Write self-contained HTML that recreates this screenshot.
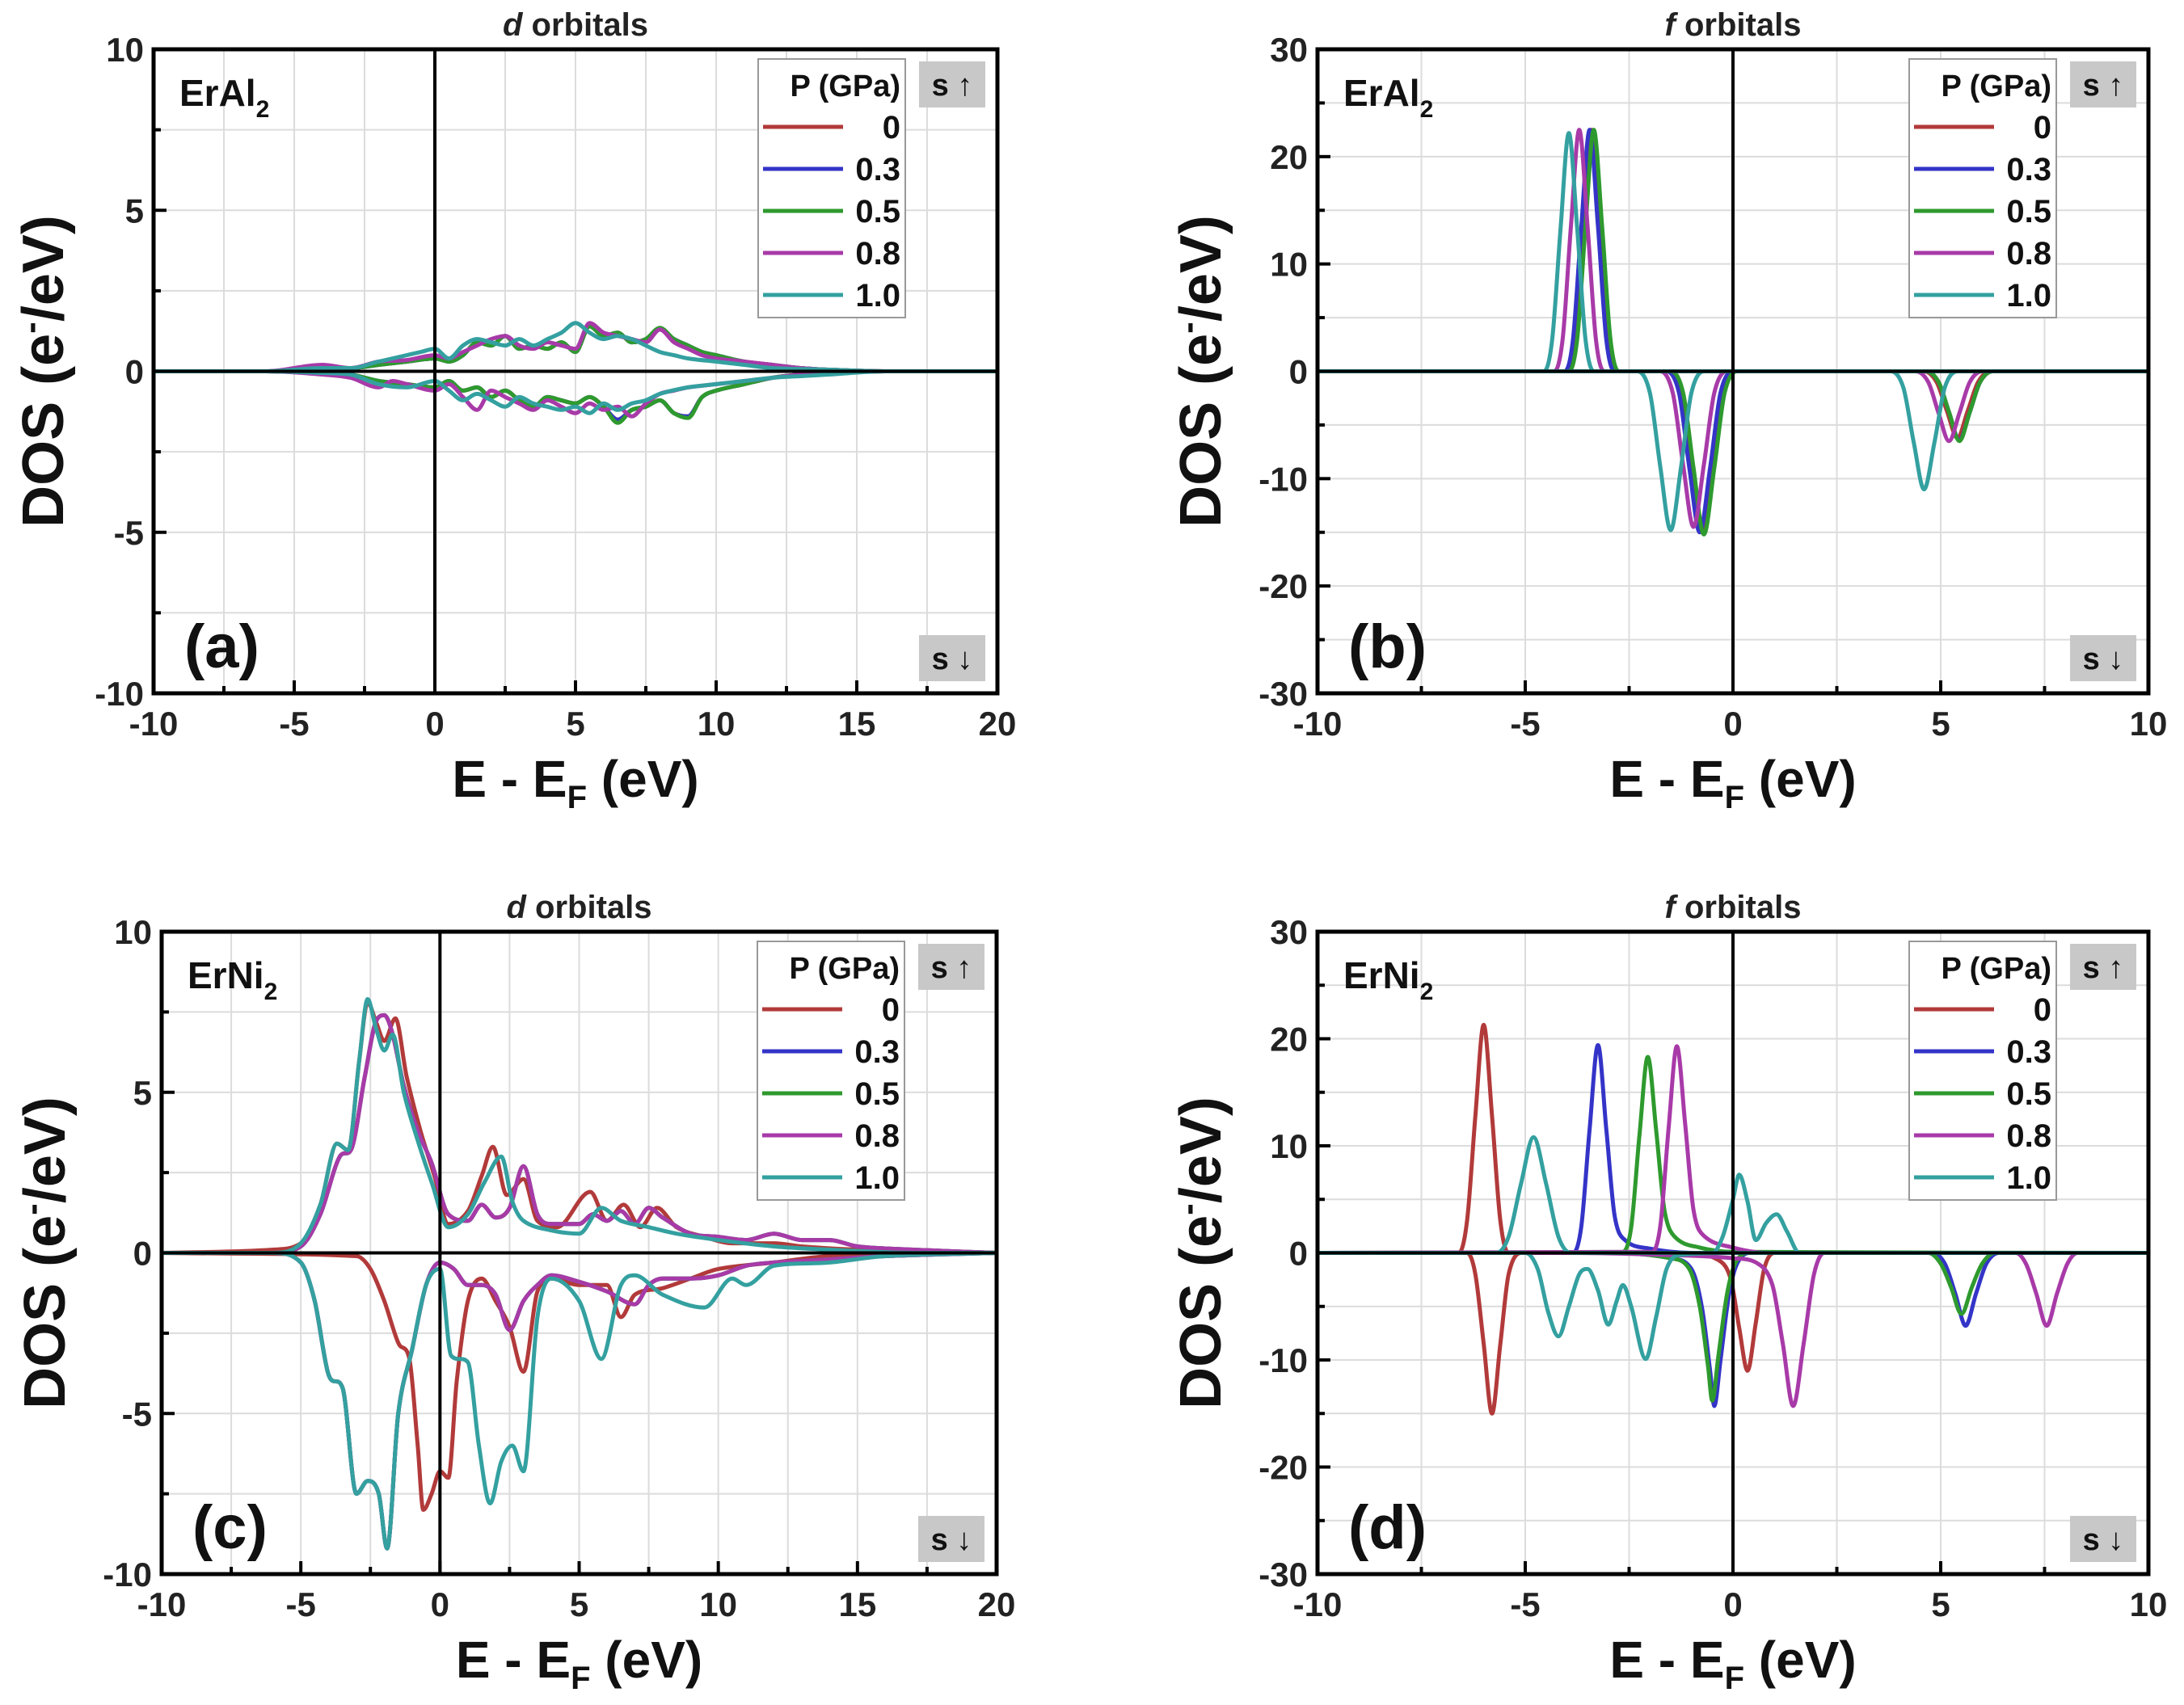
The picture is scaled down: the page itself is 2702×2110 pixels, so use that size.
<!DOCTYPE html>
<html><head><meta charset="utf-8"><style>
html,body{margin:0;padding:0;background:#fff;}
svg{display:block;font-family:"Liberation Sans",Arial,sans-serif;}
</style></head><body>
<svg id="fig" width="2702" height="2110" viewBox="0 0 2702 2110" xmlns="http://www.w3.org/2000/svg"></svg>
<script>
// ---------- data ----------
const pressures = ["0","0.3","0.5","0.8","1.0"];
const seriesColors = ["#b23a3a","#3434c8","#2e9a2e","#a83aa8","#34a0a0"];

// Panel (a) ErAl2 d orbitals
const aRedUp=[[-10,0],[-6,0],[-4,0.1],[-3,0.1],[-2,0.2],[-1,0.3],[0,0.4],[0.5,0.3],[1,0.5],[1.5,0.9],[2,0.8],[2.5,1.1],[3,0.7],[3.5,0.8],[4,0.7],[4.5,0.9],[5,0.6],[5.5,1.4],[6,1.1],[6.5,1.2],[7,0.9],[7.5,1.0],[8,1.3],[8.5,1.0],[9,0.8],[9.5,0.6],[10,0.5],[11,0.3],[12,0.2],[13,0.1],[14,0.05],[16,0],[20,0]];
const aBlueUp=aRedUp.map(p=>[p[0],p[1]]);
const aGreenUp=[[-10,0],[-6,0],[-4,0.1],[-3,0.1],[-2,0.2],[-1,0.3],[0,0.4],[0.5,0.3],[1,0.5],[1.5,0.9],[2,0.8],[2.5,1.1],[3,0.7],[3.5,0.8],[4,0.7],[4.5,0.9],[5,0.6],[5.5,1.4],[6,1.1],[6.5,1.2],[7,0.9],[7.5,1.0],[8,1.35],[8.5,1.0],[9,0.8],[9.5,0.6],[10,0.5],[11,0.3],[12,0.2],[13,0.1],[14,0.05],[16,0],[20,0]];
const aPurpleUp=[[-10,0],[-6,0],[-4,0.2],[-3,0.1],[-2,0.3],[-1,0.35],[0,0.5],[0.5,0.4],[1,0.6],[1.5,0.8],[2,1.0],[2.5,1.1],[3,0.8],[3.5,0.7],[4,0.9],[4.5,0.8],[5,0.7],[5.5,1.5],[6,1.2],[6.5,1.1],[7,1.0],[7.5,0.9],[8,1.3],[8.5,0.9],[9,0.7],[9.5,0.5],[10,0.4],[11,0.3],[12,0.2],[13,0.1],[14,0.05],[16,0],[20,0]];
const aCyanUp=[[-10,0],[-6,0],[-4,0.1],[-3,0.1],[-2,0.3],[-1,0.5],[-0.5,0.6],[0,0.7],[0.5,0.4],[1,0.8],[1.5,1.0],[2,0.9],[2.5,0.8],[3,1.0],[3.5,0.8],[4,1.0],[4.5,1.2],[5,1.5],[5.5,1.2],[6,1.0],[6.5,1.1],[7,1.0],[7.5,0.8],[8,0.6],[8.5,0.5],[9,0.4],[10,0.3],[11,0.2],[12,0.1],[14,0.05],[16,0],[20,0]];
const aRedDown=[[-10,0],[-6,0],[-4,-0.05],[-3,-0.1],[-2,-0.3],[-1,-0.4],[0,-0.5],[0.5,-0.3],[1,-0.6],[1.5,-0.5],[2,-0.8],[2.5,-0.6],[3,-0.9],[3.5,-1.1],[4,-0.8],[4.5,-0.9],[5,-1.0],[5.5,-0.8],[6,-1.1],[6.5,-1.5],[7,-1.2],[7.5,-1.1],[8,-0.9],[8.5,-1.3],[9,-1.4],[9.5,-0.8],[10,-0.6],[11,-0.4],[12,-0.2],[13,-0.1],[14,-0.05],[16,0],[20,0]];
const aBlueDown=aRedDown.map(p=>[p[0],p[1]]);
const aGreenDown=[[-10,0],[-6,0],[-4,-0.05],[-3,-0.1],[-2,-0.3],[-1,-0.4],[0,-0.5],[0.5,-0.3],[1,-0.6],[1.5,-0.5],[2,-0.8],[2.5,-0.6],[3,-0.9],[3.5,-1.1],[4,-0.8],[4.5,-0.9],[5,-1.0],[5.5,-0.8],[6,-1.1],[6.5,-1.6],[7,-1.2],[7.5,-1.1],[8,-0.9],[8.5,-1.3],[9,-1.45],[9.5,-0.8],[10,-0.6],[11,-0.4],[12,-0.2],[13,-0.1],[14,-0.05],[16,0],[20,0]];
const aPurpleDown=[[-10,0],[-6,0],[-4,-0.1],[-3,-0.2],[-2,-0.5],[-1.5,-0.3],[-1,-0.4],[0,-0.6],[0.5,-0.4],[1,-0.8],[1.5,-1.2],[2,-0.6],[2.5,-0.8],[3,-1.0],[3.5,-1.2],[4,-0.9],[4.5,-1.1],[5,-1.3],[5.5,-1.0],[6,-1.2],[6.5,-1.1],[7,-1.4],[7.5,-1.0],[8,-0.7],[8.5,-0.6],[9,-0.5],[10,-0.4],[11,-0.3],[12,-0.2],[13,-0.1],[14,-0.05],[16,0],[20,0]];
const aCyanDown=[[-10,0],[-6,0],[-4,-0.05],[-3,-0.1],[-2,-0.4],[-1,-0.5],[0,-0.3],[0.5,-0.6],[1,-0.9],[1.5,-0.7],[2,-0.9],[2.5,-1.1],[3,-0.8],[3.5,-1.0],[4,-1.1],[4.5,-1.2],[5,-1.1],[5.5,-1.3],[6,-1.0],[6.5,-1.2],[7,-1.0],[7.5,-0.9],[8,-0.7],[9,-0.5],[10,-0.4],[11,-0.3],[12,-0.2],[13,-0.15],[14,-0.1],[16,0],[20,0]];

// Panel (b) ErAl2 f orbitals
const bRedUp=[[-10,0],[-4.0,0],[-3.8,3],[-3.6,13.5],[-3.4,22.5],[-3.2,13.5],[-3.0,3],[-2.8,0],[10,0]];
const bBlueUp=[[-10,0],[-4.05,0],[-3.85,3],[-3.65,13.5],[-3.45,22.5],[-3.25,13.5],[-3.05,3],[-2.85,0],[10,0]];
const bGreenUp=[[-10,0],[-3.95,0],[-3.75,3],[-3.55,13.5],[-3.35,22.5],[-3.15,13.5],[-2.95,3],[-2.75,0],[10,0]];
const bPurpleUp=[[-10,0],[-4.3,0],[-4.1,3],[-3.9,13.5],[-3.7,22.5],[-3.5,13.5],[-3.3,3],[-3.1,0],[10,0]];
const bCyanUp=[[-10,0],[-4.55,0],[-4.35,3],[-4.15,13.3],[-3.95,22.2],[-3.75,13.3],[-3.55,3],[-3.35,0],[10,0]];
const bRedDown=[[-10,0],[-1.55,0],[-1.25,-2],[-1.0,-9],[-0.75,-15],[-0.5,-9],[-0.25,-2],[0.05,0],[4.6,0],[4.9,-1],[5.15,-3.7],[5.4,-6.2],[5.65,-3.7],[5.9,-1],[6.2,0],[10,0]];
const bBlueDown=[[-10,0],[-1.6,0],[-1.3,-2],[-1.05,-9],[-0.8,-15],[-0.55,-9],[-0.3,-2],[0,0],[4.65,0],[4.95,-1],[5.2,-3.8],[5.45,-6.4],[5.7,-3.8],[5.95,-1],[6.25,0],[10,0]];
const bGreenDown=[[-10,0],[-1.5,0],[-1.2,-2],[-0.95,-9],[-0.7,-15.2],[-0.45,-9],[-0.2,-2],[0.1,0],[4.65,0],[4.95,-1],[5.2,-3.8],[5.45,-6.5],[5.7,-3.8],[5.95,-1],[6.25,0],[10,0]];
const bPurpleDown=[[-10,0],[-1.75,0],[-1.45,-2],[-1.2,-8.7],[-0.95,-14.5],[-0.7,-8.7],[-0.45,-2],[-0.15,0],[4.4,0],[4.7,-1],[4.95,-3.9],[5.2,-6.5],[5.45,-3.9],[5.7,-1],[6.0,0],[10,0]];
const bCyanDown=[[-10,0],[-2.3,0],[-2.0,-2],[-1.75,-8.9],[-1.5,-14.8],[-1.25,-8.9],[-1.0,-2],[-0.7,0],[3.8,0],[4.1,-1.5],[4.35,-6.6],[4.6,-11],[4.85,-6.6],[5.1,-1.5],[5.4,0],[10,0]];

// Panel (c) ErNi2 d orbitals
const cRedUp=[[-10,0],[-6,0.1],[-5,0.3],[-4.3,1.5],[-3.7,3.4],[-3.3,3.2],[-2.9,6],[-2.6,7.8],[-2.3,7.2],[-2,6.6],[-1.6,7.3],[-1.2,5.5],[-0.7,3.8],[-0.2,2.4],[0.3,0.9],[1,1.3],[1.5,2.4],[1.9,3.3],[2.4,1.8],[3,2.3],[3.5,1.0],[4.2,0.8],[5.4,1.9],[6,1.0],[6.6,1.5],[7.2,0.8],[7.8,1.4],[8.5,0.8],[9.5,0.5],[10.5,0.3],[12,0.3],[13,0.2],[15,0.1],[20,0]];
const cBlueUp=[[-10,0],[-6,0],[-5,0.2],[-4.3,1.2],[-3.6,3.0],[-3.2,3.2],[-2.7,5.5],[-2.3,7.2],[-2,7.4],[-1.7,6.8],[-1.3,5.2],[-0.8,3.8],[-0.3,2.8],[0.3,1.2],[1,1.0],[1.5,1.5],[2,1.1],[2.5,1.4],[3,2.7],[3.5,1.2],[4,0.9],[5,0.9],[5.5,1.2],[6,1.0],[6.5,1.3],[7,0.9],[7.5,1.4],[8,1.1],[9,0.6],[10,0.5],[11,0.4],[12,0.6],[13,0.4],[14,0.4],[15,0.2],[17,0.1],[20,0]];
const cGreenUp=cBlueUp.map(p=>[p[0],p[1]]);
const cPurpleUp=[[-10,0],[-6,0],[-5,0.2],[-4.3,1.2],[-3.6,3.0],[-3.2,3.2],[-2.7,5.5],[-2.3,7.2],[-2,7.4],[-1.7,6.8],[-1.3,5.2],[-0.8,3.8],[-0.3,2.8],[0.3,1.2],[1,1.0],[1.5,1.5],[2,1.1],[2.5,1.4],[3,2.7],[3.5,1.2],[4,0.9],[5,0.9],[5.5,1.2],[6,1.0],[6.5,1.3],[7,0.9],[7.5,1.4],[8,1.1],[9,0.6],[10,0.5],[11,0.4],[12,0.6],[13,0.4],[14,0.4],[15,0.2],[17,0.1],[20,0]];
const cCyanUp=[[-10,0],[-6,0],[-5,0.3],[-4.3,1.5],[-3.7,3.4],[-3.3,3.2],[-2.9,6],[-2.6,7.9],[-2.3,7.0],[-2,6.3],[-1.7,6.8],[-1.3,5],[-0.8,3.5],[-0.3,2.2],[0.3,0.8],[1,1.2],[1.6,2.2],[2.2,3.0],[2.6,1.6],[3,1.0],[4,0.7],[5,0.6],[5.8,1.4],[6.5,1.0],[7.5,0.8],[8.5,0.6],[10,0.4],[12,0.2],[14,0.1],[17,0],[20,0]];
const cRedDown=[[-10,0],[-3,-0.1],[-2.5,-0.5],[-2,-1.5],[-1.5,-2.8],[-1.1,-3.3],[-0.8,-6],[-0.6,-8],[-0.3,-7.5],[0,-6.8],[0.3,-7],[0.6,-4],[1,-1.5],[1.5,-0.8],[2,-1.5],[2.5,-2.3],[3,-3.7],[3.5,-1.2],[4,-0.8],[5,-1.0],[6,-1.0],[6.5,-2],[7,-1.3],[8,-1.1],[9,-0.8],[10,-0.5],[12,-0.3],[14,-0.1],[20,0]];
const cBlueDown=[[-10,0],[-6,0],[-5,-0.3],[-4.5,-1.5],[-4,-3.8],[-3.5,-4.2],[-3,-7.5],[-2.6,-7.1],[-2.2,-7.5],[-1.9,-9.2],[-1.5,-5],[-1,-3],[-0.5,-1],[0,-0.3],[0.5,-0.5],[1,-1],[1.5,-1],[2,-1.3],[2.5,-2.4],[3,-1.5],[3.5,-1],[4,-0.7],[5,-0.9],[6,-1.2],[7,-1.6],[7.5,-1],[8,-0.8],[9,-0.8],[10,-0.7],[11,-0.4],[12,-0.3],[14,-0.2],[16,-0.1],[20,0]];
const cGreenDown=cBlueDown.map(p=>[p[0],p[1]]);
const cPurpleDown=[[-10,0],[-6,0],[-5,-0.3],[-4.5,-1.5],[-4,-3.8],[-3.5,-4.2],[-3,-7.5],[-2.6,-7.1],[-2.2,-7.5],[-1.9,-9.2],[-1.5,-5],[-1,-3],[-0.5,-1],[0,-0.3],[0.5,-0.5],[1,-1],[1.5,-1],[2,-1.3],[2.5,-2.4],[3,-1.5],[3.5,-1],[4,-0.7],[5,-0.9],[6,-1.2],[7,-1.6],[7.5,-1],[8,-0.8],[9,-0.8],[10,-0.7],[11,-0.4],[12,-0.3],[14,-0.2],[16,-0.1],[20,0]];
const cCyanDown=[[-10,0],[-6,0],[-5,-0.3],[-4.5,-1.5],[-4,-3.8],[-3.5,-4.2],[-3,-7.5],[-2.6,-7.1],[-2.2,-7.5],[-1.9,-9.2],[-1.5,-5],[-1,-3],[-0.5,-1],[0,-0.5],[0.4,-3.2],[1,-3.4],[1.4,-6],[1.8,-7.8],[2.2,-6.5],[2.6,-6],[3,-6.8],[3.5,-2],[4,-0.8],[5,-1.5],[5.8,-3.3],[6.5,-1],[7,-0.7],[8,-1.3],[9.5,-1.7],[10.5,-0.8],[11,-1],[12,-0.4],[14,-0.3],[16,-0.1],[20,0]];

// Panel (d) ErNi2 f orbitals
const dRedUp=[[-10,0],[-6.6,0],[-6.4,3],[-6.2,12.8],[-6.0,21.3],[-5.8,12.8],[-5.6,3],[-5.4,0],[10,0]];
const dBlueUp=[[-10,0],[-3.85,0],[-3.65,2.5],[-3.45,11.6],[-3.25,19.4],[-3.05,11.6],[-2.85,3.5],[-2.6,1.2],[-2.0,0.4],[-1,0],[10,0]];
const dGreenUp=[[-10,0],[-2.65,0.1],[-2.45,2.4],[-2.25,11],[-2.05,18.3],[-1.85,11.5],[-1.65,4],[-1.4,1.5],[-0.8,0.5],[0,0.1],[10,0]];
const dPurpleUp=[[-10,0],[-1.95,0.1],[-1.75,2.5],[-1.55,11.6],[-1.35,19.3],[-1.15,12],[-0.95,4],[-0.7,1.6],[0,0.5],[0.8,0],[10,0]];
const dCyanUp=[[-10,0],[-5.7,0],[-5.4,1.5],[-5.1,6.5],[-4.8,10.8],[-4.5,6.5],[-4.2,1.5],[-3.9,0],[-0.5,0],[-0.25,1.5],[0,5],[0.15,7.3],[0.35,4.8],[0.55,1.2],[0.8,2.8],[1.05,3.6],[1.3,2],[1.6,0],[10,0]];
const dRedDown=[[-10,0],[-6.4,0],[-6.2,-2],[-6.0,-8.5],[-5.8,-15],[-5.6,-8.5],[-5.4,-2],[-5.1,0],[-1,0],[-0.3,-0.8],[-0.05,-2.5],[0.15,-7],[0.35,-11],[0.55,-6.5],[0.75,-1.5],[1.0,0],[10,0]];
const dBlueDown=[[-10,0],[-3,0],[-1.5,-0.5],[-1.0,-1.5],[-0.75,-5],[-0.55,-11],[-0.45,-14.3],[-0.3,-10],[-0.1,-4],[0.1,-1],[0.4,0],[4.8,0],[5.1,-1],[5.35,-3.8],[5.6,-6.8],[5.85,-3.8],[6.1,-1],[6.4,0],[10,0]];
const dGreenDown=[[-10,0],[-3,0],[-1.5,-0.5],[-1.05,-1.5],[-0.8,-5],[-0.6,-10.6],[-0.5,-13.8],[-0.35,-9.6],[-0.15,-4],[0.05,-1],[0.35,0],[4.7,0],[5.0,-1],[5.25,-3.2],[5.5,-5.7],[5.75,-3.2],[6.0,-1],[6.3,0],[10,0]];
const dPurpleDown=[[-10,0],[-4,0],[-1.5,-0.2],[0,-0.5],[0.6,-1],[0.95,-3],[1.2,-8.5],[1.45,-14.3],[1.7,-8.5],[1.95,-2],[2.2,0],[6.8,0],[7.05,-1],[7.3,-3.8],[7.55,-6.8],[7.8,-3.8],[8.05,-1],[8.3,0],[10,0]];
const dCyanDown=[[-10,0],[-5,0],[-4.7,-1.5],[-4.45,-5.5],[-4.2,-7.8],[-3.95,-5],[-3.7,-2],[-3.5,-1.5],[-3.25,-3.5],[-3.0,-6.7],[-2.8,-4.5],[-2.65,-3],[-2.45,-5],[-2.1,-9.9],[-1.85,-6],[-1.6,-1.5],[-1.3,-0.2],[0,0],[10,0]];

const aXTicks=[-10,-5,0,5,10,15,20], aYTicks=[-10,-5,0,5,10];
const fXTicks=[-10,-5,0,5,10], fYTicks=[-30,-20,-10,0,10,20,30];

// ---------- drawing ----------
const NS="http://www.w3.org/2000/svg";
const svg=document.getElementById('fig');
function mk(tag,attrs,parent){const e=document.createElementNS(NS,tag);for(const k in attrs)e.setAttribute(k,attrs[k]);(parent||svg).appendChild(e);return e;}
function smoothPath(pts){
  const n=pts.length, m=[];
  for(let i=0;i<n;i++){
    const a=pts[Math.max(0,i-1)], b=pts[Math.min(n-1,i+1)];
    const dx=b[0]-a[0];
    let s=dx>0?(b[1]-a[1])/dx:0;
    if(i>0&&i<n-1){
      const s1=(pts[i][1]-pts[i-1][1])/(pts[i][0]-pts[i-1][0]);
      const s2=(pts[i+1][1]-pts[i][1])/(pts[i+1][0]-pts[i][0]);
      if(s1*s2<=0) s=0; else { const mx=3*Math.min(Math.abs(s1),Math.abs(s2)); if(Math.abs(s)>mx) s=Math.sign(s)*mx; }
    }
    m.push(s);
  }
  let d="M"+pts[0][0].toFixed(1)+","+pts[0][1].toFixed(1);
  for(let i=0;i<n-1;i++){
    const p1=pts[i],p2=pts[i+1],h=(p2[0]-p1[0])/3;
    d+=" C"+(p1[0]+h).toFixed(1)+","+(p1[1]+m[i]*h).toFixed(1)+" "+(p2[0]-h).toFixed(1)+","+(p2[1]-m[i+1]*h).toFixed(1)+" "+p2[0].toFixed(1)+","+p2[1].toFixed(1);
  }
  return d;
}
function panel(cfg){
  const g=mk('g',{});
  
  
  const L=cfg.L,R=cfg.R,T=cfg.T,B=cfg.B;
  const sx=v=>L+(v-cfg.xmin)/(cfg.xmax-cfg.xmin)*(R-L);
  const sy=v=>B-(v-cfg.ymin)/(cfg.ymax-cfg.ymin)*(B-T);
  for(let v=cfg.xmin+cfg.xminor;v<cfg.xmax-1e-9;v+=cfg.xminor){const l=mk('line',{x1:sx(v),x2:sx(v),y1:T,y2:B,stroke:'#dcdcdc','stroke-width':2},g);}
  for(let v=cfg.ymin+cfg.yminor;v<cfg.ymax-1e-9;v+=cfg.yminor){const l=mk('line',{x1:L,x2:R,y1:sy(v),y2:sy(v),stroke:'#dcdcdc','stroke-width':2},g);}
  const clip=mk('clipPath',{id:'clip-'+cfg.name},g);mk('rect',{x:L,y:T,width:R-L,height:B-T},clip);
  const sg=mk('g',{'clip-path':'url(#clip-'+cfg.name+')'},g);
  cfg.series.forEach((s,i)=>{
    s.forEach((arr,j)=>{
      const p=mk('path',{d:smoothPath(arr.map(q=>[sx(q[0]),sy(q[1])])),fill:'none',stroke:seriesColors[i],'stroke-width':5,'stroke-linejoin':'round'},sg);
      
      
    });
  });
  mk('line',{x1:L,x2:R,y1:sy(0),y2:sy(0),stroke:'#000','stroke-width':4},g);
  mk('line',{x1:sx(0),x2:sx(0),y1:T,y2:B,stroke:'#000','stroke-width':4},g);
  const fr=mk('rect',{x:L,y:T,width:R-L,height:B-T,fill:'none',stroke:'#000','stroke-width':5},g);
  
  for(let v=cfg.xmin;v<=cfg.xmax+1e-9;v+=cfg.xminor){const maj=Math.abs(v/cfg.xmajor-Math.round(v/cfg.xmajor))<1e-6;mk('line',{x1:sx(v),x2:sx(v),y1:B,y2:B-(maj?16:9),stroke:'#000','stroke-width':4},g);}
  for(let v=cfg.ymin;v<=cfg.ymax+1e-9;v+=cfg.yminor){const maj=Math.abs(v/cfg.ymajor-Math.round(v/cfg.ymajor))<1e-6;mk('line',{x1:L,x2:L+(maj?16:9),y1:sy(v),y2:sy(v),stroke:'#000','stroke-width':4},g);}
  cfg.xticks.forEach(v=>{const t=mk('text',{x:sx(v),y:B+52,'text-anchor':'middle','font-size':42,'font-weight':'bold',fill:'#222'},g);t.textContent=v;});
  cfg.yticks.forEach(v=>{const t=mk('text',{x:L-12,y:sy(v)+15,'text-anchor':'end','font-size':42,'font-weight':'bold',fill:'#222'},g);t.textContent=v;});
  const tt=mk('text',{x:(L+R)/2,y:T-17,'text-anchor':'middle','font-size':40,'font-weight':'bold',fill:'#222'},g);
  tt.innerHTML='<tspan font-style="italic">'+cfg.orb+'</tspan> orbitals';
  const xt=mk('text',{x:(L+R)/2,y:B+128,'text-anchor':'middle','font-size':64,'font-weight':'bold',fill:'#111'},g);
  xt.innerHTML='E - E<tspan font-size="40" dy="14">F</tspan><tspan dy="-14"> (eV)</tspan>';
  const yx=cfg.ytx, ymid=(T+B)/2;
  const yt=mk('text',{x:yx,y:ymid,'text-anchor':'middle','font-size':72,'font-weight':'bold',fill:'#111',transform:'rotate(-90 '+yx+' '+ymid+')'},g);
  yt.innerHTML='DOS (e<tspan font-size="44" dy="-26">-</tspan><tspan dy="26">/eV)</tspan>';
  const cl=mk('text',{x:L+32,y:T+70,'font-size':46,'font-weight':'bold',fill:'#111'},g);
  cl.innerHTML=cfg.comp+'<tspan font-size="30" dy="14">2</tspan>';
  const pl=mk('text',{x:L+38,y:B-32,'font-size':76,'font-weight':'bold',fill:'#111'},g);
  pl.textContent=cfg.letter;
  const lg=mk('g',{},g);
  const lx=R-296;
  mk('rect',{x:lx,y:T+12,width:182,height:320,fill:'#fff',stroke:'#999','stroke-width':2},lg);
  const lh=mk('text',{x:lx+176,y:T+58,'text-anchor':'end','font-size':38,'font-weight':'bold',fill:'#111'},lg);lh.textContent='P (GPa)';
  
  pressures.forEach((p,i)=>{
    const yy=T+96+i*52;
    const ln=mk('line',{x1:lx+6,x2:lx+105,y1:yy,y2:yy,stroke:seriesColors[i],'stroke-width':5},lg);
    
    const lt=mk('text',{x:lx+176,y:yy+14,'text-anchor':'end','font-size':40,'font-weight':'bold',fill:'#111'},lg);lt.textContent=p;
    
  });
  [['↑',T+15],['↓',B-72]].forEach((s,k)=>{
    const sb=mk('g',{},g);
    mk('rect',{x:R-97,y:s[1],width:82,height:57,fill:'#c8c8c8'},sb);
    const st=mk('text',{x:R-56,y:s[1]+42,'text-anchor':'middle','font-size':38,'font-weight':'bold',fill:'#111'},sb);st.textContent='s '+s[0];
  });
}
panel({name:'panel-a-eral2-d',L:190,R:1234,T:61,B:858,xmin:-10,xmax:20,ymin:-10,ymax:10,xminor:2.5,xmajor:5,yminor:2.5,ymajor:5,xticks:aXTicks,yticks:aYTicks,orb:'d',comp:'ErAl',letter:'(a)',ytx:78,
  series:[[aRedUp,aRedDown],[aBlueUp,aBlueDown],[aGreenUp,aGreenDown],[aPurpleUp,aPurpleDown],[aCyanUp,aCyanDown]]});
panel({name:'panel-b-eral2-f',L:1630,R:2658,T:61,B:858,xmin:-10,xmax:10,ymin:-30,ymax:30,xminor:2.5,xmajor:5,yminor:5,ymajor:10,xticks:fXTicks,yticks:fYTicks,orb:'f',comp:'ErAl',letter:'(b)',ytx:1510,
  series:[[bRedUp,bRedDown],[bBlueUp,bBlueDown],[bGreenUp,bGreenDown],[bPurpleUp,bPurpleDown],[bCyanUp,bCyanDown]]});
panel({name:'panel-c-erni2-d',L:200,R:1233,T:1153,B:1948,xmin:-10,xmax:20,ymin:-10,ymax:10,xminor:2.5,xmajor:5,yminor:2.5,ymajor:5,xticks:aXTicks,yticks:aYTicks,orb:'d',comp:'ErNi',letter:'(c)',ytx:80,
  series:[[cRedUp,cRedDown],[cBlueUp,cBlueDown],[cGreenUp,cGreenDown],[cPurpleUp,cPurpleDown],[cCyanUp,cCyanDown]]});
panel({name:'panel-d-erni2-f',L:1630,R:2658,T:1153,B:1948,xmin:-10,xmax:10,ymin:-30,ymax:30,xminor:2.5,xmajor:5,yminor:5,ymajor:10,xticks:fXTicks,yticks:fYTicks,orb:'f',comp:'ErNi',letter:'(d)',ytx:1510,
  series:[[dRedUp,dRedDown],[dBlueUp,dBlueDown],[dGreenUp,dGreenDown],[dPurpleUp,dPurpleDown],[dCyanUp,dCyanDown]]});
</script>
</body></html>
